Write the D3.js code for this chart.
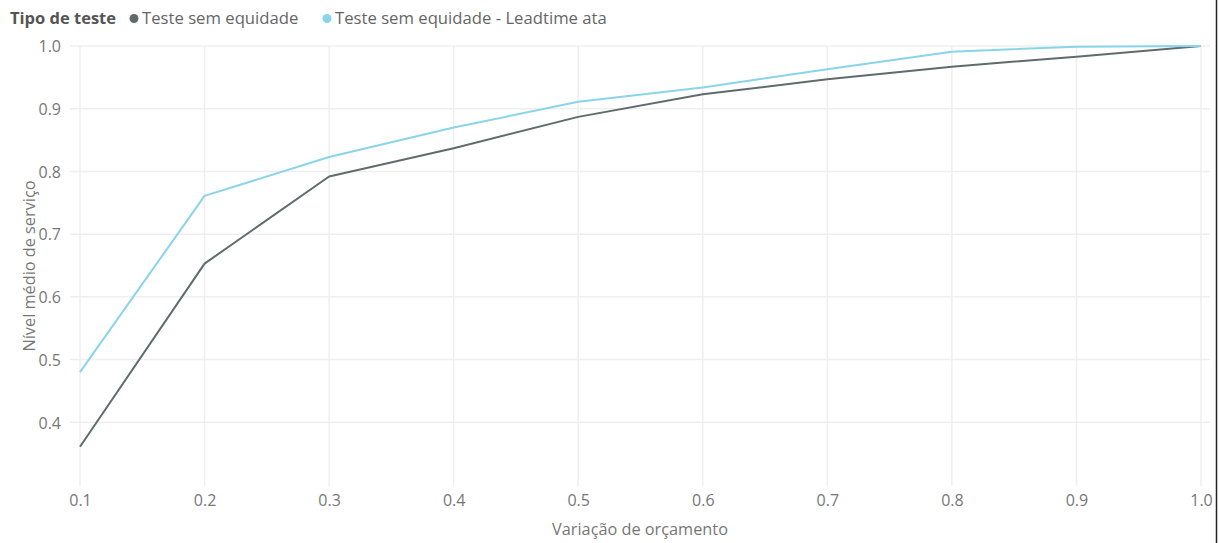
<!DOCTYPE html>
<html>
<head>
<meta charset="utf-8">
<script src="https://cdn.jsdelivr.net/npm/d3@7"></script>
<style>
  html, body { margin: 0; padding: 0; background: #fff; }
  svg { display: block; font-family: "Open Sans", "Noto Sans", sans-serif; }
</style>
</head>
<body>
<svg id="chart" width="1219" height="543"></svg>
<script>
const budget = [0.1, 0.2, 0.3, 0.4, 0.5, 0.6, 0.7, 0.8, 0.9, 1.0];
const semEquidade = [0.361, 0.653, 0.792, 0.837, 0.887, 0.923, 0.947, 0.967, 0.983, 1.0];
const semEquidadeLeadtime = [0.480, 0.761, 0.823, 0.870, 0.911, 0.934, 0.963, 0.991, 0.999, 1.0];
const seriesNames = ["Teste sem equidade", "Teste sem equidade - Leadtime ata"];
const seriesColors = ["#5F6B6D", "#8AD4EB"];
const xTicks = [0.1, 0.2, 0.3, 0.4, 0.5, 0.6, 0.7, 0.8, 0.9, 1.0];
const yTicks = [0.4, 0.5, 0.6, 0.7, 0.8, 0.9, 1.0];
const legendTitle = "Tipo de teste";
const xTitle = "Variação de orçamento";
const yTitle = "Nível médio de serviço";

const svg = d3.select("#chart");
const x = d3.scaleLinear().domain([0.1, 1.0]).range([80, 1201]);
const y = d3.scaleLinear().domain([0.3, 1.0]).range([485, 46]);

// gridlines
const grid = svg.append("g");
grid.selectAll("line.h").data(yTicks).join("line")
  .attr("x1", 70).attr("x2", 1210)
  .attr("y1", d => y(d)).attr("y2", d => y(d))
  .attr("stroke", "#efefef").attr("stroke-width", 1.5);
grid.selectAll("line.v").data(xTicks).join("line")
  .attr("x1", d => x(d)).attr("x2", d => x(d))
  .attr("y1", 46).attr("y2", 486)
  .attr("stroke", "#efefef").attr("stroke-width", 1.5);

// axes
const yAxis = svg.append("g").attr("transform", "translate(70,0)")
  .call(d3.axisLeft(y).tickValues(yTicks).tickFormat(d3.format(".1f")).tickSize(0).tickPadding(9));
const xAxis = svg.append("g").attr("transform", "translate(0,486)")
  .call(d3.axisBottom(x).tickValues(xTicks).tickFormat(d3.format(".1f")).tickSize(0).tickPadding(6));
[yAxis, xAxis].forEach(a => {
  a.select(".domain").remove();
  a.selectAll("text").attr("fill", "#777").attr("font-size", 16)
    .attr("font-family", "'Open Sans', 'Noto Sans', sans-serif");
});
yAxis.selectAll("text").attr("dy", "0.36em");
xAxis.selectAll("text").attr("dy", "0.9em");

// lines
const lineGen = d3.line().x((d, i) => x(budget[i])).y(d => y(d));
[semEquidade, semEquidadeLeadtime].forEach((s, i) => {
  svg.append("path").datum(s)
    .attr("fill", "none").attr("stroke", seriesColors[i])
    .attr("stroke-width", 2).attr("stroke-linejoin", "round")
    .attr("d", lineGen);
});

// axis titles
svg.append("text").attr("x", 640).attr("y", 535).attr("text-anchor", "middle")
  .attr("fill", "#777").attr("font-size", 16.3).text(xTitle);
svg.append("text").attr("transform", "translate(35,266) rotate(-90)")
  .attr("text-anchor", "middle").attr("fill", "#777").attr("font-size", 16.3).text(yTitle);

// legend
const leg = svg.append("g").attr("transform", "translate(10,24)");
leg.append("text").attr("x", 0).attr("y", 0).attr("font-weight", "bold")
  .attr("font-size", 16.5).attr("fill", "#555").text(legendTitle);
const legX = [134, 327];
seriesNames.forEach((n, i) => {
  leg.append("circle").attr("cx", legX[i] - 10).attr("cy", -5.5).attr("r", 4.5).attr("fill", seriesColors[i]);
  leg.append("text").attr("x", legX[i] - 2).attr("y", 0).attr("font-size", 16.7)
    .attr("fill", "#666").text(n);
});

// right border
svg.append("line").attr("x1", 1216.5).attr("x2", 1216.5).attr("y1", 0).attr("y2", 543)
  .attr("stroke", "#222").attr("stroke-width", 1.5);
</script>
</body>
</html>
